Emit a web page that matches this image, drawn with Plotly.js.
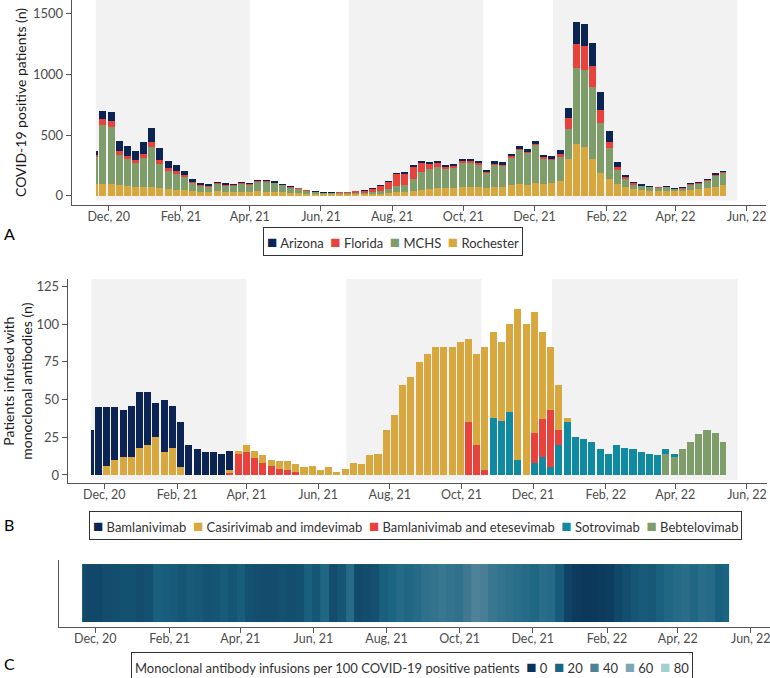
<!DOCTYPE html>
<html><head><meta charset="utf-8">
<script src="https://cdn.plot.ly/plotly-3.0.1.min.js"></script>
<style>html,body{margin:0;padding:0;background:#fff}#chart{width:770px;height:678px}</style>
</head><body><div id="chart"></div>
<script>
// ---------- DATA (weekly, weeks starting Monday 2020-11-16) ----------
const weekStart = '2020-11-16';
const periodStart = '2020-11-20';
const periodEnd = '2022-05-14';

// Panel A: COVID-19 positive patients (n) per site
const sitesA = ['Arizona', 'Florida', 'MCHS', 'Rochester'];
const colorsA = ['#0b2454', '#e8423c', '#7f9c6b', '#d8a83e'];
const arizona = [30,70,75,90,80,75,95,115,100,60, 50,35,20,14,12,12,10,9,10,9, 10,10,9,8,7,6,5,4,3,3,
  4,4,5,5,6,8,10,12,14,16, 18,18,18,16,17,20,20,19,15,18, 18,22,26,24,30,24,25,35,80,180,
  185,190,150,85,40,20,12,9,8,7, 7,6,6,8,9,10,14,15];
const florida = [20,45,45,30,30,28,35,40,35,25, 22,18,12,9,8,8,7,7,8,8, 9,9,8,7,6,5,4,3,3,3,
  5,5,10,14,22,38,60,100,95,100, 70,45,30,22,18,16,14,12,10,10, 9,10,10,9,10,9,12,25,90,200,
  200,170,100,55,25,14,9,7,6,5, 5,4,5,6,6,7,8,9];
const mchs = [225,485,475,250,220,192,240,330,195,145, 133,107,65,46,44,58,51,51,61,59, 78,77,69,55,39,34,23,15,10,10,
  13,11,14,14,18,27,34,50,55,95, 147,163,176,156,165,199,199,186,128,183, 173,230,281,258,310,212,189,195,252,620,
  635,600,414,251,120,68,37,29,26,23, 28,19,21,37,43,58,87,99];
const rochester = [95,100,95,85,80,75,70,70,65,55, 50,45,38,33,32,35,33,33,34,33, 35,34,32,30,25,22,18,14,11,11,
  12,11,12,12,14,16,20,28,32,40, 50,55,60,62,65,70,72,70,60,72, 75,85,95,92,105,95,105,125,300,430,
  400,300,190,140,95,70,55,48,42,40, 42,35,38,50,55,62,75,85];

// Panel B: patients infused with monoclonal antibodies (n)
const drugsB = ['Bamlanivimab', 'Casirivimab and imdevimab', 'Bamlanivimab and etesevimab', 'Sotrovimab', 'Bebtelovimab'];
const colorsB = ['#0b2454', '#d8a83e', '#e8423c', '#0f8aa0', '#7f9c6b'];
const bamlanivimab = [30,45,39,35,31,34,37,35,23,35, 28,30,20,17,15,15,14,13,0,0, 0,0,0,0,0,0,0,0,0,0,
  0,0,0,0,0,0,0,0,0,0, 0,0,0,0,0,0,0,0,0,0, 0,0,0,0,0,0,0,0,0,0,
  0,0,0,0,0,0,0,0,0,0, 0,0,0,0,0,0,0,0];
const casirivimab = [0,0,6,10,12,12,18,20,25,15, 18,5,0,0,0,0,0,2,2,5, 5,5,4,5,6,5,5,6,3,5,
  2,4,8,7,13,14,30,40,60,65, 75,80,85,85,85,88,55,60,82,57, 52,58,100,100,80,58,42,30,3,0,
  0,0,0,0,0,0,0,0,0,0, 0,0,0,0,0,0,0,0];
const bamEte = [0,0,0,0,0,0,0,0,0,0, 0,0,0,0,0,0,0,1,14,15, 11,8,6,4,3,2,0,0,0,0,
  0,0,0,0,0,0,0,0,0,0, 0,0,0,0,0,0,35,20,3,0, 0,0,0,0,20,25,38,10,0,0,
  0,0,0,0,0,0,0,0,0,0, 0,0,0,0,0,0,0,0];
const sotrovimab = [0,0,0,0,0,0,0,0,0,0, 0,0,0,0,0,0,0,0,0,0, 0,0,0,0,0,0,0,0,0,0,
  0,0,0,0,0,0,0,0,0,0, 0,0,0,0,0,0,0,0,0,38, 36,42,10,0,8,12,5,20,35,25,
  24,22,17,14,20,18,17,15,14,13, 3,2,0,0,0,0,0,0];
const bebtelovimab = [0,0,0,0,0,0,0,0,0,0, 0,0,0,0,0,0,0,0,0,0, 0,0,0,0,0,0,0,0,0,0,
  0,0,0,0,0,0,0,0,0,0, 0,0,0,0,0,0,0,0,0,0, 0,0,0,0,0,0,0,0,0,0,
  0,0,0,0,0,0,0,0,0,0, 14,12,17,22,27,30,28,22];

// Panel C: monoclonal antibody infusions per 100 COVID-19 positive patients
const ratioC = [9,8,8,10,11,12,12,10,12,18, 17,16,14,16,15,13,14,16,14,17, 12,11,10,10,12,11,12,18,14,22,
  10,14,24,9,10,12,18,20,24,22, 24,28,30,32,30,28,34,40,38,32, 30,28,26,24,22,26,24,16,6,3,
  2,2,3,4,8,11,14,16,15,18, 22,24,26,22,26,24,18,20];
const ratioLegend = [0, 20, 40, 60, 80];
const ratioColors = ['#0a3457', '#1b6482', '#4d8298', '#7ba7b4', '#a3cfcf'];

// Axis ticks and shaded periods
const tickDates = ['2020-12-01','2021-02-01','2021-04-01','2021-06-01','2021-08-01','2021-10-01','2021-12-01','2022-02-01','2022-04-01','2022-06-01'];
const tickText = ['Dec, 20','Feb, 21','Apr, 21','Jun, 21','Aug, 21','Oct, 21','Dec, 21','Feb, 22','Apr, 22','Jun, 22'];
const bands = [['2020-11-20','2021-04-01'], ['2021-06-25','2021-10-18'], ['2021-12-17','2022-05-24']];

// ---------- BUILD ----------
const DAY = 86400000;
const iso = t => new Date(t).toISOString().slice(0, 19).replace('T', ' ');
const nW = arizona.length;
const t0 = Date.parse(weekStart + 'T00:00:00Z');
const edges = [];
for (let i = 0; i <= nW; i++) edges.push(t0 + i * 7 * DAY);
edges[0] = Date.parse(periodStart + 'T00:00:00Z');
edges[nW] = Date.parse(periodEnd + 'T00:00:00Z');
const xBar = [], wBar = [];
for (let i = 0; i < nW; i++) {
  const a = edges[i], b = (i < nW - 1) ? edges[i + 1] - DAY : edges[i + 1];
  xBar.push(iso((a + b) / 2)); wBar.push(b - a);
}
const xEdges = edges.map(iso);

const seriesA = [arizona, florida, mchs, rochester];
const seriesB = [bamlanivimab, casirivimab, bamEte, sotrovimab, bebtelovimab];
const traces = [];
for (let i = sitesA.length - 1; i >= 0; i--) {
  traces.push({type: 'bar', name: sitesA[i], x: xBar, y: seriesA[i], width: wBar,
    marker: {color: colorsA[i], line: {width: 0}}, xaxis: 'x', yaxis: 'y', showlegend: false});
}
for (let i = drugsB.length - 1; i >= 0; i--) {
  traces.push({type: 'bar', name: drugsB[i], x: xBar, y: seriesB[i], width: wBar,
    marker: {color: colorsB[i], line: {width: 0}}, xaxis: 'x2', yaxis: 'y2', showlegend: false});
}
const cs = ratioLegend.map((v, i) => [v / 80, ratioColors[i]]);
traces.push({type: 'heatmap', x: xEdges, y: [0], z: [ratioC], zmin: 0, zmax: 80, colorscale: cs,
  showscale: false, xaxis: 'x3', yaxis: 'y3'});

const FONT = 'Lato, "Open Sans", sans-serif';
const axisBase = {showline: true, linecolor: '#555', linewidth: 1, ticks: 'outside', ticklen: 5, tickcolor: '#555',
  tickwidth: 1, tickfont: {family: FONT, size: 13, color: '#4d4d4d'}, showgrid: false, zeroline: false, fixedrange: true};
const xBase = Object.assign({}, axisBase, {type: 'date', tickvals: tickDates, ticktext: tickText,
  tickfont: {family: FONT, size: 12.5, color: '#4d4d4d'}, ticklabelstandoff: -5, ticklabeloverflow: 'allow'});

const shapes = [];
bands.forEach(b => {
  shapes.push({type: 'rect', xref: 'x', yref: 'y domain', x0: b[0], x1: b[1], y0: 0.022, y1: 1,
    fillcolor: '#f2f2f2', line: {width: 0}, layer: 'below'});
  shapes.push({type: 'rect', xref: 'x2', yref: 'y2 domain', x0: b[0], x1: b[1], y0: 0.016, y1: 1,
    fillcolor: '#f2f2f2', line: {width: 0}, layer: 'below'});
});

function legendText(names, colors) {
  return names.map((n, i) => '<span style="color:' + colors[i] + ';font-size:17px">\u25A0</span>\u00a0' + n)
    .join('\u00a0\u00a0');
}
const legBox = {xref: 'paper', yref: 'paper', xanchor: 'center', yanchor: 'middle', showarrow: false,
  bordercolor: '#333', borderwidth: 1, borderpad: 3, bgcolor: '#fff', font: {family: FONT, size: 13, color: '#333'}};
const annotations = [
  Object.assign({}, legBox, {x: 0.510, y: 0.6445, text: legendText(sitesA, colorsA)}),
  Object.assign({}, legBox, {x: 0.539, y: 0.2242, text: legendText(drugsB, colorsB)}),
  Object.assign({}, legBox, {x: 0.535, y: 0.017,
    text: 'Monoclonal antibody infusions per 100 COVID-19 positive patients\u00a0\u00a0' + legendText(ratioLegend.map(String), ratioColors)}),
  {xref: 'paper', yref: 'paper', x: 0.002, y: 0.6549, xanchor: 'left', yanchor: 'middle', showarrow: false, text: 'A', font: {family: FONT, size: 16, color: '#000'}},
  {xref: 'paper', yref: 'paper', x: 0.002, y: 0.2257, xanchor: 'left', yanchor: 'middle', showarrow: false, text: 'B', font: {family: FONT, size: 16, color: '#000'}},
  {xref: 'paper', yref: 'paper', x: 0.002, y: 0.0221, xanchor: 'left', yanchor: 'middle', showarrow: false, text: 'C', font: {family: FONT, size: 16, color: '#000'}}
];

const layout = {
  width: 770, height: 678, margin: {l: 0, r: 0, t: 0, b: 0},
  paper_bgcolor: '#fff', plot_bgcolor: '#fff', barmode: 'stack', showlegend: false,
  font: {family: FONT, color: '#333'},
  xaxis: Object.assign({}, xBase, {domain: [0.0931, 0.9948], anchor: 'y', range: ['2020-10-30 07:00', '2022-06-17 12:00']}),
  yaxis: Object.assign({}, axisBase, {domain: [0.6976, 1], anchor: 'x', range: [-76.7, 1614.5], tickvals: [0, 500, 1000, 1500],
    title: {text: 'COVID-19 positive patients (n)', font: {family: FONT, size: 14, color: '#1a1a1a'}, standoff: 3}}),
  xaxis2: Object.assign({}, xBase, {domain: [0.0879, 0.996], anchor: 'y2', range: ['2020-10-30 21:00', '2022-06-18 00:00']}),
  yaxis2: Object.assign({}, axisBase, {domain: [0.2872, 0.5885], anchor: 'x2', range: [-5.5, 130], tickvals: [0, 25, 50, 75, 100, 125],
    title: {text: 'Patients infused with<br>monoclonal antibodies (n)', font: {family: FONT, size: 14, color: '#1a1a1a'}, standoff: 4}}),
  xaxis3: Object.assign({}, xBase, {domain: [0.0766, 1], anchor: 'y3', range: ['2020-10-31 17:00', '2022-06-17 00:00']}),
  yaxis3: Object.assign({}, axisBase, {domain: [0.0745, 0.174], anchor: 'x3', range: [-0.595, 0.569], ticks: '', showticklabels: false}),
  shapes: shapes,
  annotations: annotations
};

Plotly.newPlot('chart', traces, layout, {displayModeBar: false, staticPlot: true});
</script>
</body></html>
